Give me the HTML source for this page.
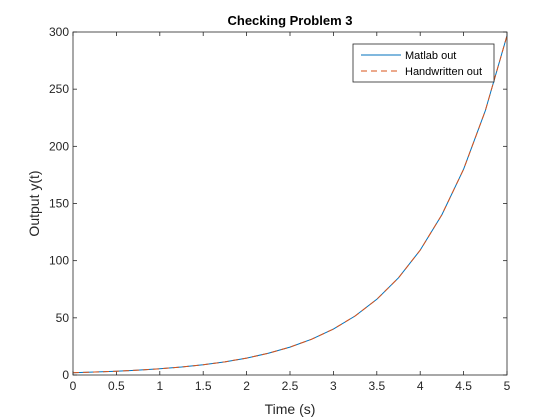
<!DOCTYPE html>
<html><head><meta charset="utf-8"><style>
body{margin:0;background:#fff;}
svg{display:block;font-family:"Liberation Sans",Arial,sans-serif;}
</style></head><body>
<svg id="c" width="560" height="420" xmlns="http://www.w3.org/2000/svg">
<rect width="560" height="420" fill="#fff"/>
</svg>
<script>
const xTicks=[0,0.5,1,1.5,2,2.5,3,3.5,4,4.5,5];
const yTicks=[0,50,100,150,200,250,300];
const tVals=[0,0.25,0.5,0.75,1,1.25,1.5,1.75,2,2.25,2.5,2.75,3,3.25,3.5,3.75,4,4.25,4.5,4.75,5];
const matlabVals=[2,2.57,3.3,4.23,5.44,6.98,8.96,11.5,14.8,19,24.4,31.3,40.2,51.6,66.2,85,109.2,140.2,180,231.1,296.8];
const handVals=[2,2.57,3.3,4.23,5.44,6.98,8.96,11.5,14.8,19,24.4,31.3,40.2,51.6,66.2,85,109.2,140.2,180,231.1,296.8];
const L=73,R=507,T=32,B=375;
const sx=v=>L+(v-0)/5*(R-L);
const sy=v=>B-(v-0)/300*(B-T);
const svg=document.getElementById('c');
const NS='http://www.w3.org/2000/svg';
function mk(tag,attrs,parent){const e=document.createElementNS(NS,tag);for(const k in attrs)e.setAttribute(k,attrs[k]);(parent||svg).appendChild(e);return e;}
const g=mk('g',{});


xTicks.forEach(v=>{const x=sx(v);
 const t=mk('line',{x1:x,x2:x,y1:B,y2:B-4,stroke:'#262626','stroke-width':0.8},g);
 
 
 const t2=mk('line',{x1:x,x2:x,y1:T,y2:T+4,stroke:'#262626','stroke-width':0.8},g);
 
 
 const l=mk('text',{x:x,y:B+15,'text-anchor':'middle','font-size':12,fill:'#262626'},g);l.textContent=v;
 
 
});
yTicks.forEach(v=>{const y=sy(v);
 const t=mk('line',{x1:L,x2:L+4,y1:y,y2:y,stroke:'#262626','stroke-width':0.8},g);
 
 
 const t2=mk('line',{x1:R,x2:R-4,y1:y,y2:y,stroke:'#262626','stroke-width':0.8},g);
 
 
 const l=mk('text',{x:L-4,y:y+4,'text-anchor':'end','font-size':12,fill:'#262626'},g);l.textContent=v;
 
 
});
function path(vals){return tVals.map((t,i)=>(i?'L':'M')+sx(t).toFixed(2)+' '+sy(vals[i]).toFixed(2)).join(' ');}
const p1=mk('path',{d:path(matlabVals),fill:'none',stroke:'#0072BD','stroke-width':1});


const p2=mk('path',{d:path(handVals),fill:'none',stroke:'#D95319','stroke-width':1,'stroke-dasharray':'6 4'});


const box=mk('rect',{x:L,y:T,width:R-L,height:B-T,fill:'none',stroke:'#262626','stroke-width':0.8});


const title=mk('text',{x:(L+R)/2,y:25,'text-anchor':'middle','font-size':13,'font-weight':'bold',fill:'#000'});
title.textContent='Checking Problem 3';


const xl=mk('text',{x:(L+R)/2,y:414,'text-anchor':'middle','font-size':14,fill:'#262626'});
xl.textContent='Time (s)';


const yl=mk('text',{x:0,y:0,'text-anchor':'middle','font-size':14,fill:'#262626',transform:'translate(39,'+((T+B)/2)+') rotate(-90)'});
yl.textContent='Output y(t)';


const lg=mk('g',{});


mk('rect',{x:353,y:44,width:141,height:38,fill:'#fff',stroke:'#262626','stroke-width':0.8},lg);
const e1=mk('line',{x1:361,x2:401,y1:55,y2:55,stroke:'#0072BD','stroke-width':1},lg);


const e2=mk('line',{x1:361,x2:401,y1:71,y2:71,stroke:'#D95319','stroke-width':1,'stroke-dasharray':'6 4'},lg);


const t1=mk('text',{x:405,y:59,'font-size':11,fill:'#000'},lg);t1.textContent='Matlab out';


const t2=mk('text',{x:405,y:75,'font-size':11,fill:'#000'},lg);t2.textContent='Handwritten out';


</script>
</body></html>
